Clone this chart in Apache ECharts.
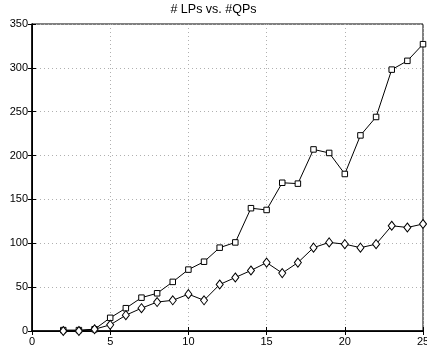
<!DOCTYPE html>
<html>
<head>
<meta charset="utf-8">
<script src="https://cdn.jsdelivr.net/npm/echarts@6/dist/echarts.min.js"></script>
<style>html,body{margin:0;padding:0;background:#fff;}#c{width:427px;height:353px;}</style>
</head>
<body>
<div id="c"></div>
<script>
var xValues = [2,3,4,5,6,7,8,9,10,11,12,13,14,15,16,17,18,19,20,21,22,23,24,25];
var lpValues = [1,1,2,15,26,38,43,56,70,79,95,101,140,138,169,168,207,203,179,223,244,298,308,327];
var qpValues = [0,0,2,7,18,26,33,35,42,35,53,61,69,78,66,78,95,101,99,95,99,120,118,122];
var xTicks = [0,5,10,15,20,25];
var yTicks = [0,50,100,150,200,250,300,350];
var title = '# LPs vs. #QPs';

function pairs(xs, ys){ return xs.map(function(x,i){ return [x, ys[i]]; }); }
var font = 'Liberation Sans, Arial, sans-serif';
var chart = echarts.init(document.getElementById('c'), null, {renderer:'canvas'});
var split = {show:true, lineStyle:{color:'#b0b0b0', type:[1,3], width:1}};
chart.setOption({
  animation:false,
  backgroundColor:'#fff',
  title:{text:title, left:'center', top:0, padding:[3,0,3,35], textStyle:{fontFamily:font, fontSize:12.5, fontWeight:'normal', color:'#000'}},
  grid:{left:32, right:4, top:24, bottom:22, show:true, borderColor:'#000', borderWidth:1, containLabel:false, outerBoundsMode:'none'},
  xAxis:[{type:'value', min:xTicks[0], max:xTicks[xTicks.length-1], interval:5, position:'bottom',
    axisLine:{lineStyle:{color:'#000', width:1.5}}, axisTick:{inside:true, length:4, lineStyle:{color:'#000'}},
    axisLabel:{fontFamily:font, fontSize:11, color:'#000', margin:5}, splitLine:split},
   {type:'value', min:0, max:25, interval:5, position:'top',
    axisLine:{lineStyle:{color:'#000'}}, axisTick:{inside:true, length:4, lineStyle:{color:'#000'}},
    axisLabel:{show:false}, splitLine:{show:false}}],
  yAxis:[{type:'value', min:yTicks[0], max:yTicks[yTicks.length-1], interval:50, position:'left',
    axisLine:{show:true, lineStyle:{color:'#000', width:1.5}}, axisTick:{show:true, inside:true, length:4, lineStyle:{color:'#000'}},
    axisLabel:{fontFamily:font, fontSize:11, color:'#000', margin:4}, splitLine:split},
   {type:'value', min:0, max:350, interval:50, position:'right',
    axisLine:{show:true, lineStyle:{color:'#000'}}, axisTick:{show:true, inside:true, length:4, lineStyle:{color:'#000'}},
    axisLabel:{show:false}, splitLine:{show:false}}],
  series:[
    {name:'LPs', type:'line', data:pairs(xValues, lpValues), symbol:'rect', symbolSize:5.5,
     lineStyle:{color:'#000', width:1}, itemStyle:{color:'#fff', borderColor:'#000', borderWidth:1}},
    {name:'QPs', type:'line', data:pairs(xValues, qpValues), symbol:'diamond', symbolSize:[7,9],
     lineStyle:{color:'#000', width:1}, itemStyle:{color:'#fff', borderColor:'#000', borderWidth:1}}
  ]
});
</script>
</body>
</html>
